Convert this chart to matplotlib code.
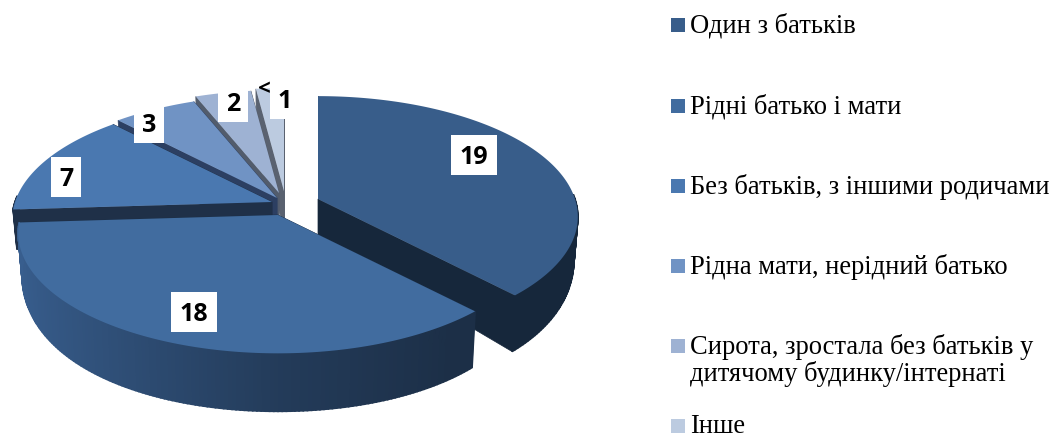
import matplotlib
matplotlib.use('Agg')
import matplotlib.pyplot as plt
import numpy as np
from matplotlib.patches import Rectangle

plt.rcParams['font.family'] = ['Liberation Serif', 'DejaVu Serif']

categories = ['Один з батьків', 'Рідні батько і мати', 'Без батьків, з іншими родичами',
              'Рідна мати, нерідний батько', 'Сирота, зростала без батьків у\nдитячому будинку/інтернаті', 'Інше']
values = [19, 18, 7, 3, 2, 1]

top_colors = ['#385d8a', '#416c9f', '#4a78b0', '#7093c4', '#9eb2d3', '#bccbe0']
wall_colors = ['#16273b', '#1c2f47', '#1f3048', '#2c3f62', '#525c6c', '#5a6270']
# shift of every slice from the pie centre, px
shifts = [(39, -7), (-1, 9), (-7, -4), (-2, -8), (0, -13), (5, -15)]
# where the value labels sit, px
label_pos = [(474, 156), (194, 313), (66, 178), (149, 124), (233, 103), (285, 100)]
legend_y = [26, 107, 187, 267, 347, 427]

CX, CY = 279, 207
RX, RY = 257, 118
PERSP = 0.147
DEPTH = 38


def project(u, v, low=False):
    s = 1 / (1 + PERSP * v)
    x = RX * u * s
    y = -RY * v * s
    if low:
        x = x * 0.985
        y = y + DEPTH + 20 * np.sin(np.clip(-v, 0, 1) * np.pi / 2)
    return x, y


def shade(color, k):
    return tuple(min(1, c * k) for c in matplotlib.colors.to_rgb(color))


def draw_slice(ax, a0, a1, shift, top, wall, z, gradient):
    ang = np.radians(np.linspace(a0, a1, 160))
    u, v = np.sin(ang), np.cos(ang)
    ox, oy = CX + shift[0], CY + shift[1]
    xt, yt = project(u, v)
    xb, yb = project(u, v, low=True)
    x0t, y0t = project(0.0, 0.0)
    x0b, y0b = project(0.0, 0.0, low=True)
    # radial walls
    ax.fill([ox + x0t, ox + xt[0], ox + xb[0], ox + x0b], [oy + y0t, oy + yt[0], oy + yb[0], oy + y0b],
            color=wall, lw=0.5, zorder=z)
    ax.fill([ox + x0t, ox + xt[-1], ox + xb[-1], ox + x0b], [oy + y0t, oy + yt[-1], oy + yb[-1], oy + y0b],
            color=wall, lw=0.5, zorder=z)
    # outer wall, only the front slice gets lighter to the left
    for j in range(len(ang) - 1):
        if v[j] > 0.05:
            continue
        k = 1.0
        if gradient:
            k = 1.27 - 0.73 * u[j] if u[j] < 0 else max(1.0, 1.27 - 0.45 * u[j])
        ax.fill([ox + xt[j], ox + xt[j + 1], ox + xb[j + 1], ox + xb[j]],
                [oy + yt[j], oy + yt[j + 1], oy + yb[j + 1], oy + yb[j]],
                color=shade(wall, k), lw=1.2, zorder=z)
    ax.fill(np.r_[ox + x0t, ox + xt], np.r_[oy + y0t, oy + yt], color=top, lw=0, zorder=z + 0.5)


fig = plt.figure(figsize=(10.54, 4.39), dpi=100)
ax = fig.add_axes([0, 0, 1, 1])
ax.set_xlim(0, 1054)
ax.set_ylim(439, 0)
ax.axis('off')

edges = np.r_[0, np.cumsum(values)] / sum(values) * 360
# back slices first, the big front one last
order = [5, 4, 3, 2, 0, 1]
for z, i in enumerate(order):
    draw_slice(ax, edges[i], edges[i + 1], shifts[i], top_colors[i], wall_colors[i], z + 1, i == 1)

# bit of a hidden label sticking out from behind the white box
ax.text(264, 90, '<', ha='center', va='center', fontsize=16, fontweight='bold',
        family=['Open Sans', 'DejaVu Sans'], color='black', zorder=19)

for val, (x, y) in zip(values, label_pos):
    w = 46 if val > 9 else 30
    ax.add_patch(Rectangle((x - w / 2, y - 20), w, 40, color='white', lw=0, zorder=20))
    ax.text(x, y + 2, str(val), ha='center', va='center', fontsize=18, fontweight='bold',
            family=['Open Sans', 'DejaVu Sans'], color='black', zorder=21)

for name, col, y in zip(categories, top_colors, legend_y):
    ax.add_patch(Rectangle((671, y - 7), 14, 14, color=col, lw=0))
    ax.text(690, y - 13, name, ha='left', va='top', fontsize=19.1, color='black', linespacing=1.03)

fig.savefig('out.png', dpi=100)
